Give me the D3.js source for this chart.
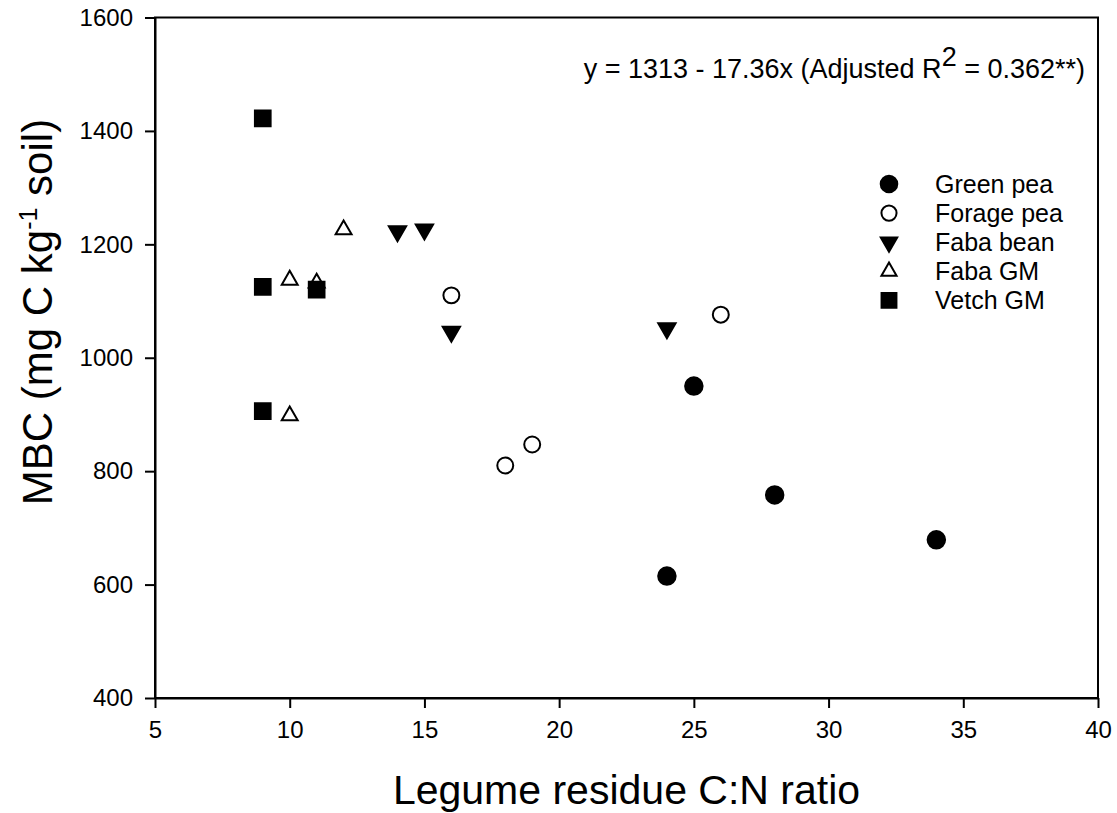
<!DOCTYPE html>
<html>
<head>
<meta charset="utf-8">
<script src="https://cdn.jsdelivr.net/npm/d3@7"></script>
<style>
  body { margin: 0; background: #fff; }
  svg text { font-family: "Liberation Sans", Arial, sans-serif; fill: #000; }
</style>
</head>
<body>
<script>
const w = 1117;
const h = 813;

// series values
const seriesNames = ["Green pea", "Forage pea", "Faba bean", "Faba GM", "Vetch GM"];
const greenPeaX = [24, 25, 28, 34];
const greenPeaY = [615, 950, 758, 679];
const foragePeaX = [16, 18, 19, 26];
const foragePeaY = [1110, 810, 847, 1076];
const fabaBeanX = [14, 15, 16, 24];
const fabaBeanY = [1223, 1226, 1046, 1052];
const fabaGMX = [10, 11, 12, 10];
const fabaGMY = [1137, 1132, 1226, 898];
const vetchGMX = [9, 9, 11, 9];
const vetchGMY = [1422, 1125, 1120, 906];

const xTicks = [5, 10, 15, 20, 25, 30, 35, 40];
const yTicks = [400, 600, 800, 1000, 1200, 1400, 1600];

const xScale = d3.scaleLinear().domain([5, 40]).range([155, 1098]);
const yScale = d3.scaleLinear().domain([400, 1600]).range([698, 17.5]);

// marker styles per series
const styles = [
  { type: d3.symbolCircle, size: 240, fill: "#000", rot: 0 },
  { type: d3.symbolCircle, size: 200, fill: "#fff", rot: 0 },
  { type: d3.symbolTriangle, size: 130, fill: "#000", rot: 180 },
  { type: d3.symbolTriangle, size: 110, fill: "#fff", rot: 0 },
  { type: d3.symbolSquare, size: 246, fill: "#000", rot: 0 }
];

const series = [
  [greenPeaX, greenPeaY],
  [foragePeaX, foragePeaY],
  [fabaBeanX, fabaBeanY],
  [fabaGMX, fabaGMY],
  [vetchGMX, vetchGMY]
].map((s, i) => ({ name: seriesNames[i], pts: s[0].map((x, j) => ({ x: x, y: s[1][j] })) }));

const svg = d3.select("body")
              .append("svg")
              .attr("width", w)
              .attr("height", h);

// frame
svg.append("rect")
   .attr("x", xScale(5))
   .attr("y", yScale(1600))
   .attr("width", xScale(40) - xScale(5))
   .attr("height", yScale(400) - yScale(1600))
   .attr("fill", "none")
   .attr("stroke", "#000")
   .attr("stroke-width", 2);

const xAxis = d3.axisBottom(xScale).tickValues(xTicks).tickSize(10).tickSizeOuter(0)
                .tickPadding(13).tickFormat(d3.format("d"));
const yAxis = d3.axisLeft(yScale).tickValues(yTicks).tickSize(10).tickSizeOuter(0)
                .tickPadding(12).tickFormat(d3.format("d"));

const gx = svg.append("g")
   .attr("transform", "translate(0," + yScale(400) + ")")
   .call(xAxis);
const gy = svg.append("g")
   .attr("transform", "translate(" + xScale(5) + ",0)")
   .call(yAxis);

[gx, gy].forEach(g => {
  g.attr("font-size", null).attr("font-family", null);
  g.select(".domain").attr("stroke-width", 2);
  g.selectAll(".tick line").attr("stroke-width", 2);
  g.selectAll(".tick text").style("font-size", "24px");
});

// points
series.forEach((s, i) => {
  const st = styles[i];
  svg.append("g")
     .selectAll("path")
     .data(s.pts)
     .enter()
     .append("path")
     .attr("d", d3.symbol().type(st.type).size(st.size))
     .attr("transform", d => "translate(" + xScale(d.x) + "," + yScale(d.y) + ") rotate(" + st.rot + ")")
     .attr("fill", st.fill)
     .attr("stroke", "#000")
     .attr("stroke-width", 2);
});

// legend
const legend = svg.append("g");
series.forEach((s, i) => {
  const st = styles[i];
  const base = 193 + i * 29.1;
  legend.append("path")
        .attr("d", d3.symbol().type(st.type).size(st.size * 0.9))
        .attr("transform", "translate(889," + (base - 9) + ") rotate(" + st.rot + ")")
        .attr("fill", st.fill)
        .attr("stroke", "#000")
        .attr("stroke-width", 2);
  legend.append("text")
        .attr("x", 935)
        .attr("y", base)
        .style("font-size", "25px")
        .text(s.name);
});

// regression equation
const eq = svg.append("text")
   .attr("x", 1085)
   .attr("y", 78)
   .attr("text-anchor", "end")
   .style("font-size", "27px");
eq.append("tspan").text("y = 1313 - 17.36x (Adjusted R");
eq.append("tspan").attr("dy", -12).text("2");
eq.append("tspan").attr("dy", 12).text(" = 0.362**)");

// axis titles
svg.append("text")
   .attr("x", (xScale(5) + xScale(40)) / 2)
   .attr("y", 804)
   .attr("text-anchor", "middle")
   .style("font-size", "41px")
   .text("Legume residue C:N ratio");

const yl = svg.append("text")
   .attr("transform", "translate(52,312) rotate(-90)")
   .attr("text-anchor", "middle")
   .style("font-size", "42px");
yl.append("tspan").text("MBC (mg C kg");
yl.append("tspan").attr("dy", -15).style("font-size", "25px").text("-1");
yl.append("tspan").attr("dy", 15).text(" soil)");
</script>
</body>
</html>
